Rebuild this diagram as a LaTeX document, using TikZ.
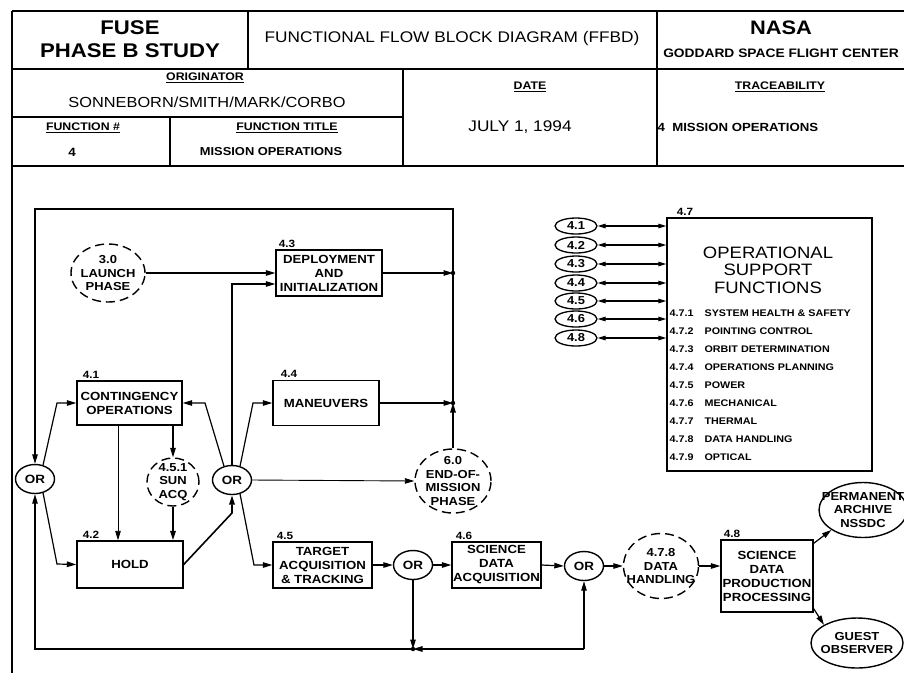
\documentclass[tikz,border=0pt]{standalone}
\usepackage{fontspec}
\setmainfont{Liberation Sans}[FakeStretch=1.12]
\usetikzlibrary{shapes.geometric,arrows.meta}
\newcommand\fsz[2]{\fontsize{#1}{#2}\selectfont}
\begin{document}
\begin{tikzpicture}[x=1pt,y=-1pt,line width=1.2pt,
  arr/.style={-{Triangle[length=9.5pt,width=5.5pt]}},
  darr/.style={{Triangle[length=8pt,width=4.5pt]}-{Triangle[length=8pt,width=4.5pt]}},
  blk/.style={draw,rectangle,inner sep=0pt,align=center,line width=1.4pt,font=\bfseries\fsz{11.8}{14}},
  orn/.style={draw,ellipse,inner sep=0pt,minimum width=39pt,minimum height=29pt,line width=1.4pt,font=\bfseries\fsz{12}{13}},
  dsh/.style={draw,ellipse,inner sep=0pt,dash pattern=on 9pt off 5pt,line width=1.4pt},
  sol/.style={draw,ellipse,inner sep=0pt,line width=1.4pt},
  etxt/.style={align=center,inner sep=0pt,font=\bfseries\fsz{11.6}{13.6}},
  sml/.style={draw,ellipse,inner sep=0pt,minimum width=42pt,minimum height=16pt,line width=1.3pt,font=\bfseries\fsz{11.5}{12}},
  lbl/.style={font=\bfseries\fsz{10.5}{11},inner sep=0pt,anchor=south west},
  ul/.style={font=\bfseries\fsz{11}{12},inner sep=0pt},
  frame/.style={line width=1.5pt}]
\useasboundingbox (0,0) rectangle (904,673);
% ---------- header frame ----------
\draw[line width=2.4pt] (12,11) -- (12,673);
\draw[frame] (12,11) -- (904,11);
\draw[frame] (12,69) -- (904,69);
\draw[frame] (12,117) -- (403,117);
\draw[frame] (12,166) -- (904,166);
\draw[frame] (248,11) -- (248,69);
\draw[frame] (657,11) -- (657,166);
\draw[frame] (403,69) -- (403,166);
\draw[frame] (170,117) -- (170,166);
% ---------- header text ----------
\node[font=\bfseries\fsz{19.8}{23},align=center,inner sep=0pt] (hfuse) at (130,39) {FUSE\\PHASE B STUDY};
\node[font=\fsz{15.4}{17},inner sep=0pt] (htitle) at (452,39) {FUNCTIONAL FLOW BLOCK DIAGRAM (FFBD)};
\node[font=\bfseries\fsz{19.5}{21},inner sep=0pt] (hnasa) at (781,28) {NASA};
\node[font=\bfseries\fsz{12.3}{13},inner sep=0pt] (hgsfc) at (781,53) {GODDARD SPACE FLIGHT CENTER};
\node[ul] (horig) at (205,78) {\underline{ORIGINATOR}};
\node[font=\fsz{14.6}{16},inner sep=0pt] (hnames) at (207,102) {SONNEBORN/SMITH/MARK/CORBO};
\node[ul] (hdate) at (530,87) {\underline{DATE}};
\node[font=\fsz{15.4}{17},inner sep=0pt] (hjuly) at (520,127) {JULY 1, 1994};
\node[ul] (htrace) at (780,87) {\underline{TRACEABILITY}};
\node[font=\bfseries\fsz{11.8}{13},anchor=west,inner sep=0pt] (htrv) at (657,127) {4\ \ MISSION OPERATIONS};
\node[ul] (hfn) at (83,128) {\underline{FUNCTION \#}};
\node[font=\bfseries\fsz{12}{13},inner sep=0pt] (hfnv) at (72,152) {4};
\node[ul] (hft) at (287,128) {\underline{FUNCTION TITLE}};
\node[font=\bfseries\fsz{11.5}{12},inner sep=0pt] (hftv) at (271,152) {MISSION OPERATIONS};
% ---------- blocks ----------
\node[blk,minimum width=106pt,minimum height=46pt] (b43) at (329,273) {DEPLOYMENT\\AND\\INITIALIZATION};
\node[blk,minimum width=106pt,minimum height=45pt] (b44) at (326,403) {MANEUVERS};
\node[blk,minimum width=105pt,minimum height=44pt] (b41) at (129.5,403) {CONTINGENCY\\OPERATIONS};
\node[blk,minimum width=106pt,minimum height=47pt] (b42) at (130,564.5) {HOLD};
\node[blk,minimum width=99pt,minimum height=46pt] (b45) at (322.5,565) {TARGET\\ACQUISITION\\\&\ TRACKING};
\node[blk,minimum width=89pt,minimum height=46pt] (b46) at (496.5,565) {SCIENCE\\DATA\\ACQUISITION};
\node[blk,minimum width=92pt,minimum height=72pt] (b48) at (767,576) {SCIENCE\\DATA\\PRODUCTION\\PROCESSING};
\node[blk,minimum width=205pt,minimum height=253pt] (b47) at (769.5,344.5) {};
\node[lbl] (l43) at ([xshift=3pt,yshift=1.5pt]b43.north west) {4.3};
\node[lbl] (l44) at ([xshift=8pt,yshift=1.5pt]b44.north west) {4.4};
\node[lbl] (l41) at ([xshift=6pt,yshift=1.5pt]b41.north west) {4.1};
\node[lbl] (l42) at ([xshift=6pt,yshift=1.5pt]b42.north west) {4.2};
\node[lbl] (l45) at ([xshift=4pt,yshift=1.5pt]b45.north west) {4.5};
\node[lbl] (l46) at ([xshift=4pt,yshift=1.5pt]b46.north west) {4.6};
\node[lbl] (l48) at ([xshift=3pt,yshift=1.5pt]b48.north west) {4.8};
\node[lbl] (l47) at ([xshift=10pt,yshift=1.5pt]b47.north west) {4.7};
\node[font=\fsz{16.5}{17.5},align=center,inner sep=0pt] (t47) at (768,270) {OPERATIONAL\\SUPPORT\\FUNCTIONS};
\node[font=\bfseries\fsz{9.6}{18},align=left,anchor=west,inner sep=0pt] (i47) at (669,385.5)
 {\makebox[35pt][l]{4.7.1}SYSTEM HEALTH \& SAFETY\\
  \makebox[35pt][l]{4.7.2}POINTING CONTROL\\
  \makebox[35pt][l]{4.7.3}ORBIT DETERMINATION\\
  \makebox[35pt][l]{4.7.4}OPERATIONS PLANNING\\
  \makebox[35pt][l]{4.7.5}POWER\\
  \makebox[35pt][l]{4.7.6}MECHANICAL\\
  \makebox[35pt][l]{4.7.7}THERMAL\\
  \makebox[35pt][l]{4.7.8}DATA HANDLING\\
  \makebox[35pt][l]{4.7.9}OPTICAL};
% ---------- ellipses ----------
\node[dsh,minimum width=74pt,minimum height=58pt] (launch) at (108,273) {};
\node[etxt] at (launch.center) {3.0\\LAUNCH\\PHASE};
\node[dsh,minimum width=52pt,minimum height=48pt] (sun) at (173,482) {};
\node[etxt] at (sun.center) {4.5.1\\SUN\\ACQ};
\node[dsh,minimum width=76pt,minimum height=64pt] (eom) at (453,481) {};
\node[etxt] at (eom.center) {6.0\\END-OF-\\MISSION\\PHASE};
\node[dsh,minimum width=75pt,minimum height=65pt] (dh) at (661,566) {};
\node[etxt] at (dh.center) {4.7.8\\DATA\\HANDLING};
\node[sol,minimum width=88pt,minimum height=55pt] (arch) at (863,510) {};
\node[etxt] at (arch.center) {PERMANENT\\ARCHIVE\\NSSDC};
\node[sol,minimum width=92pt,minimum height=50pt] (guest) at (857,643) {};
\node[etxt] at (guest.center) {GUEST\\OBSERVER};
\node[orn] (or1) at (35,479) {OR};
\node[orn] (or2) at (232,480) {OR};
\node[orn] (or3) at (413,565) {OR};
\node[orn] (or4) at (584,566) {OR};
\node[sml] (s1) at (576,226) {4.1};
\node[sml] (s2) at (576,245) {4.2};
\node[sml] (s3) at (576,264) {4.3};
\node[sml] (s4) at (576,283) {4.4};
\node[sml] (s5) at (576,301) {4.5};
\node[sml] (s6) at (576,319) {4.6};
\node[sml] (s8) at (576,338) {4.8};
\foreach \s in {s1,s2,s3,s4,s5,s6,s8}
  \draw[darr] (\s.east) -- (\s.east -| b47.west);
% ---------- coordinates ----------
\coordinate (jD) at (453,273);
\coordinate (jM) at (453,403);
\coordinate (jTR) at (453,209);
\coordinate (c1) at (57,403);
\coordinate (c2) at (57,564);
\coordinate (c3) at (205,403);
\coordinate (c4) at (232,284);
\coordinate (c5) at (253,403);
\coordinate (c6) at (254,565);
\coordinate (c7) at (232,513);
\coordinate (c8) at (118,0);
\coordinate (jB) at (413,649);
\coordinate (jR) at (584,649);
\coordinate (bl) at (35,649);
% ---------- connectors ----------
\draw[arr] (launch.east) -- (b43.west);
\draw[arr] (or2.north) -- (c4) -- (c4 -| b43.west);
\draw[arr] (b43.east) -- (jD);
\draw[arr] (b44.east) -- (jM);
\draw[arr] (eom.north) -- (jM);
\draw[arr] (jM) -- (jTR) -| (or1.north);
\fill (jD) circle (2.2pt);
\fill (jM) circle (2.2pt);
\draw[arr] (or1.60) -- (c1) -- (b41.west);
\draw[arr] (or1.-60) -- (c2) -- (b42.west);
\draw[arr] (or2.120) -- (c3) -- (b41.east);
\draw[arr] (or2.60) -- (c5) -- (b44.west);
\draw[arr,line width=0.9pt] (or2.east) -- (eom.west);
\draw[arr] (or2.-60) -- (c6) -- (b45.west);
\draw[arr,line width=1.6pt] (b42.east) -- (c7) -- (or2.south);
\draw[arr,line width=0.9pt] (b41.south -| c8) -- (b42.north -| c8);
\draw[arr] (b41.south -| sun.north) -- (sun.north);
\draw[arr,line width=1.8pt] (sun.south) -- (b42.north -| sun.south);
\draw[arr] (b45.east) -- (or3.west);
\draw[arr] (or3.east) -- (b46.west);
\draw[arr] (b46.east) -- (or4.west);
\draw[arr] (or4.east) -- (dh.west);
\draw[arr] (dh.east) -- (dh.east -| b48.west);
\draw[arr] (or3.south) -- (jB);
\draw[arr] (jR) -- (jB);
\draw[arr] (jR) -- (or4.south);
\draw[arr] (jB) -- (bl) -- (or1.south);
\fill (jB) circle (2.2pt);
\draw[arr] ([yshift=-4pt]b48.north east) -- (arch.south west);
\draw[arr] ([yshift=4pt]b48.south east) -- (guest.north west);
\end{tikzpicture}
\end{document}
